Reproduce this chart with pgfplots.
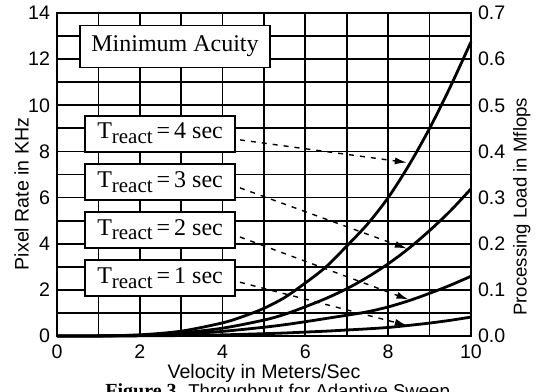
\documentclass[border=0pt]{standalone}
\usepackage{pgfplots}
\pgfplotsset{compat=1.18}
\usepackage{fontspec}
\setmainfont{Liberation Serif}
\newfontfamily\helv{Liberation Sans}
\usetikzlibrary{arrows.meta}
\newcommand{\Tr}[1]{T\raisebox{-0.45ex}{\fontsize{10.5}{11}\selectfont react}\,=\,#1 sec}
\begin{document}
\begin{tikzpicture}
\path[use as bounding box] (-28.5pt,-28pt) rectangle (240pt,168pt);
\begin{axis}[
  at={(0pt,0pt)}, anchor=south west,
  scale only axis, width=207pt, height=161.5pt,
  xmin=0, xmax=10, ymin=0, ymax=14,
  xtick={0,1,2,3,4,5,6,7,8,9,10},
  xticklabels={0,,2,,4,,6,,8,,10},
  ytick={0,1,2,3,4,5,6,7,8,9,10,11,12,13,14},
  yticklabels={0,,2,,4,,6,,8,,10,,12,,14},
  xmajorgrids, ymajorgrids,
  grid style={black, line width=0.9pt},
  axis line style={line width=1.4pt},
  tick style={draw=none},
  /pgf/number format/assume math mode=true,
  tick label style={font=\helv\fontsize{9.8}{11}\selectfont},
  xticklabel style={yshift=-1pt},
  xlabel={Velocity in Meters/Sec},
  ylabel={Pixel Rate in KHz},
  xlabel style={font=\helv\fontsize{9.8}{11}\selectfont, yshift=4pt},
  ylabel style={font=\helv\fontsize{9.8}{11}\selectfont, at={(axis description cs:0,0.44)}, anchor=south, yshift=10.5pt},
  clip=false,
]
% T_react = 4 sec
\addplot[black, line width=1.4pt, smooth] coordinates {
(0,0) (1,0.005) (2,0.05) (3,0.21) (4,0.57) (4.5,0.85) (5,1.2) (5.5,1.67) (6,2.3) (6.5,3.0) (7,3.9) (7.5,4.85) (8,6.0) (8.5,7.4) (9,9.0) (9.5,10.8) (10,12.75)};
% T_react = 3 sec
\addplot[black, line width=1.4pt, smooth] coordinates {
(0,0) (1,0.004) (2,0.04) (3,0.135) (4,0.34) (5,0.69) (5.5,0.94) (6,1.27) (6.5,1.63) (7,2.05) (7.5,2.55) (8,3.13) (8.5,3.8) (9,4.57) (9.5,5.42) (10,6.38)};
% T_react = 2 sec
\addplot[black, line width=1.4pt, smooth] coordinates {
(0,0) (1,0.003) (2,0.02) (3,0.08) (4,0.2) (5,0.38) (5.5,0.49) (6,0.62) (6.5,0.76) (7,0.9) (7.5,1.05) (8,1.26) (8.5,1.53) (9,1.85) (9.5,2.2) (10,2.59)};
% T_react = 1 sec
\addplot[black, line width=1.4pt, smooth] coordinates {
(0,0) (1,0.001) (2,0.007) (3,0.02) (4,0.05) (5,0.1) (5.5,0.13) (6,0.17) (6.5,0.21) (7,0.26) (7.5,0.31) (8,0.37) (8.5,0.46) (9,0.56) (9.5,0.68) (10,0.82)};

% dashed arrows
\draw[black, line width=0.7pt, dash pattern=on 2.5pt off 3pt, -{Latex[length=6pt,width=3.5pt]}]
  (axis cs:4.42,8.5) -- (axis cs:8.45,7.52);
\draw[black, line width=0.7pt, dash pattern=on 2.5pt off 3pt, -{Latex[length=6pt,width=3.5pt]}]
  (axis cs:4.42,6.42) -- (axis cs:8.45,3.79);
\draw[black, line width=0.7pt, dash pattern=on 2.5pt off 3pt, -{Latex[length=6pt,width=3.5pt]}]
  (axis cs:4.42,4.29) -- (axis cs:8.49,1.58);
\draw[black, line width=0.7pt, dash pattern=on 2.5pt off 3pt, -{Latex[length=6pt,width=3.5pt]}]
  (axis cs:4.42,2.33) -- (axis cs:8.45,0.46);

% boxes
\node[draw=black, fill=white, line width=0.9pt, minimum width=95pt, minimum height=21pt, inner sep=0pt,
  font=\fontsize{12}{13}\selectfont] at (axis cs:2.85,12.55) {Minimum Acuity};
\node[draw=black, fill=white, line width=0.9pt, minimum width=75pt, minimum height=18pt, inner sep=0pt,
  font=\fontsize{12}{13}\selectfont] at (axis cs:2.49,8.77) {\Tr{4}};
\node[draw=black, fill=white, line width=0.9pt, minimum width=75pt, minimum height=18pt, inner sep=0pt,
  font=\fontsize{12}{13}\selectfont] at (axis cs:2.49,6.68) {\Tr{3}};
\node[draw=black, fill=white, line width=0.9pt, minimum width=75pt, minimum height=18pt, inner sep=0pt,
  font=\fontsize{12}{13}\selectfont] at (axis cs:2.49,4.61) {\Tr{2}};
\node[draw=black, fill=white, line width=0.9pt, minimum width=75pt, minimum height=18pt, inner sep=0pt,
  font=\fontsize{12}{13}\selectfont] at (axis cs:2.49,2.52) {\Tr{1}};
\end{axis}
\begin{axis}[
  at={(0pt,0pt)}, anchor=south west,
  scale only axis, width=207pt, height=161.5pt,
  xmin=0, xmax=10, ymin=0, ymax=0.7,
  axis x line=none, axis y line*=right,
  axis line style={line width=1.4pt},
  ytick={0,0.1,0.2,0.3,0.4,0.5,0.6,0.7},
  tick style={draw=none},
  /pgf/number format/assume math mode=true,
  yticklabel style={font=\helv\fontsize{9.8}{11}\selectfont, /pgf/number format/fixed, /pgf/number format/fixed zerofill, /pgf/number format/precision=1},
  ylabel={Processing Load in Mflops},
  ylabel style={font=\helv\fontsize{9.3}{11}\selectfont, at={(axis description cs:1,0.40)}, anchor=north, yshift=-17.5pt},
]
\addplot[draw=none] coordinates {(0,0) (10,0.7)};
\end{axis}
\node[anchor=north west, inner sep=0pt] at (24pt,-23.5pt)
  {\fontsize{10}{12}\selectfont\textbf{Figure 3.} {\helv\fontsize{9.3}{12}\selectfont Throughput for Adaptive Sweep}};
\end{tikzpicture}
\end{document}
